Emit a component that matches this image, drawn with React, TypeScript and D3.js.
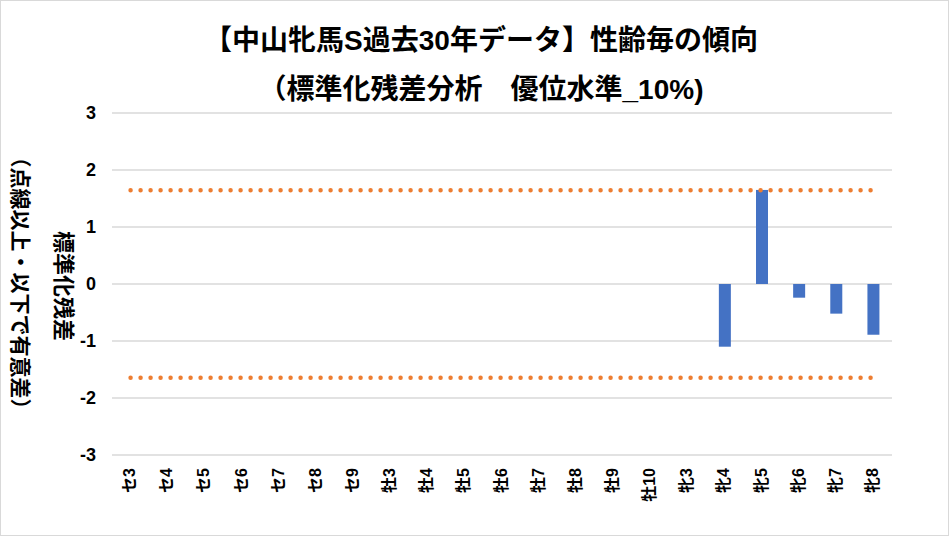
import React from "react";
import * as d3 from "d3";

const categories = ["セ3","セ4","セ5","セ6","セ7","セ8","セ9","牡3","牡4","牡5","牡6","牡7","牡8","牡9","牡10","牝3","牝4","牝5","牝6","牝7","牝8"];
const residuals: (number | null)[] = [null,null,null,null,null,null,null,null,null,null,null,null,null,null,null,0,-1.10,1.65,-0.24,-0.52,-0.89];
const upperLimit = 1.645;
const lowerLimit = -1.645;
const yTicks = [3, 2, 1, 0, -1, -2, -3];
const titleLines = ["【中山牝馬S過去30年データ】性齢毎の傾向", "（標準化残差分析　優位水準_10%)"];
const yTitleLines = ["標準化残差", "（点線以上・以下で有意差）"];

const W = 949, H = 536;
const FONT = "'Liberation Sans', 'Noto Sans CJK JP', sans-serif";

export default function App() {
  const xc = d3.scalePoint<string>().domain(categories).range([112, 892]).padding(0.5);
  const y = d3.scaleLinear().domain([-3, 3]).range([455, 113]);
  const first = xc(categories[0])!;
  const last = xc(categories[categories.length - 1])!;
  const barW = 12;

  return (
    <div style={{ position: "absolute", left: 0, top: 0 }}>
      <svg width={W} height={H} style={{ display: "block", background: "#fff" }}>
        <rect x={0.5} y={0.5} width={W - 1} height={H - 1} fill="#fff" stroke="#d9d9d9" />
        {titleLines.map((t, i) => (
          <text key={i} x={481} y={50 + i * 49} textAnchor="middle" fontFamily={FONT} fontWeight="bold" fontSize={28} fill="#000">{t}</text>
        ))}
        {yTicks.map((t) => (
          <g key={t}>
            <line x1={112} x2={892} y1={y(t)} y2={y(t)} stroke="#d9d9d9" strokeWidth={1.6} />
            <text x={96} y={y(t)} dy="0.36em" textAnchor="end" fontFamily={FONT} fontWeight="bold" fontSize={18} fill="#000">{t}</text>
          </g>
        ))}
        {categories.map((c, i) => {
          const v = residuals[i];
          if (v === null || v === 0) return null;
          return <rect key={c} x={xc(c)! - barW / 2} width={barW} y={Math.min(y(v), y(0))} height={Math.abs(y(v) - y(0))} fill="#4472C4" />;
        })}
        {[upperLimit, lowerLimit].map((l) => (
          <line key={l} x1={first} x2={last} y1={y(l)} y2={y(l)} stroke="#ED7D31" strokeWidth={4.5} strokeLinecap="round" strokeDasharray="0 10" />
        ))}
        {categories.map((c) => (
          <text key={c} transform={`translate(${xc(c)! - 1},468) rotate(-90)`} textAnchor="end" dominantBaseline="central" fontFamily={FONT} fontWeight="bold" fontSize={16} fill="#000">{c}</text>
        ))}
        <text transform="translate(63,286) rotate(90)" textAnchor="middle" dominantBaseline="central" fontFamily={FONT} fontWeight="bold" fontSize={22} fill="#000">{yTitleLines[0]}</text>
        <text transform="translate(20,283) rotate(90)" textAnchor="middle" dominantBaseline="central" fontFamily={FONT} fontWeight="bold" fontSize={21} fill="#000">{yTitleLines[1]}</text>
      </svg>
    </div>
  );
}
